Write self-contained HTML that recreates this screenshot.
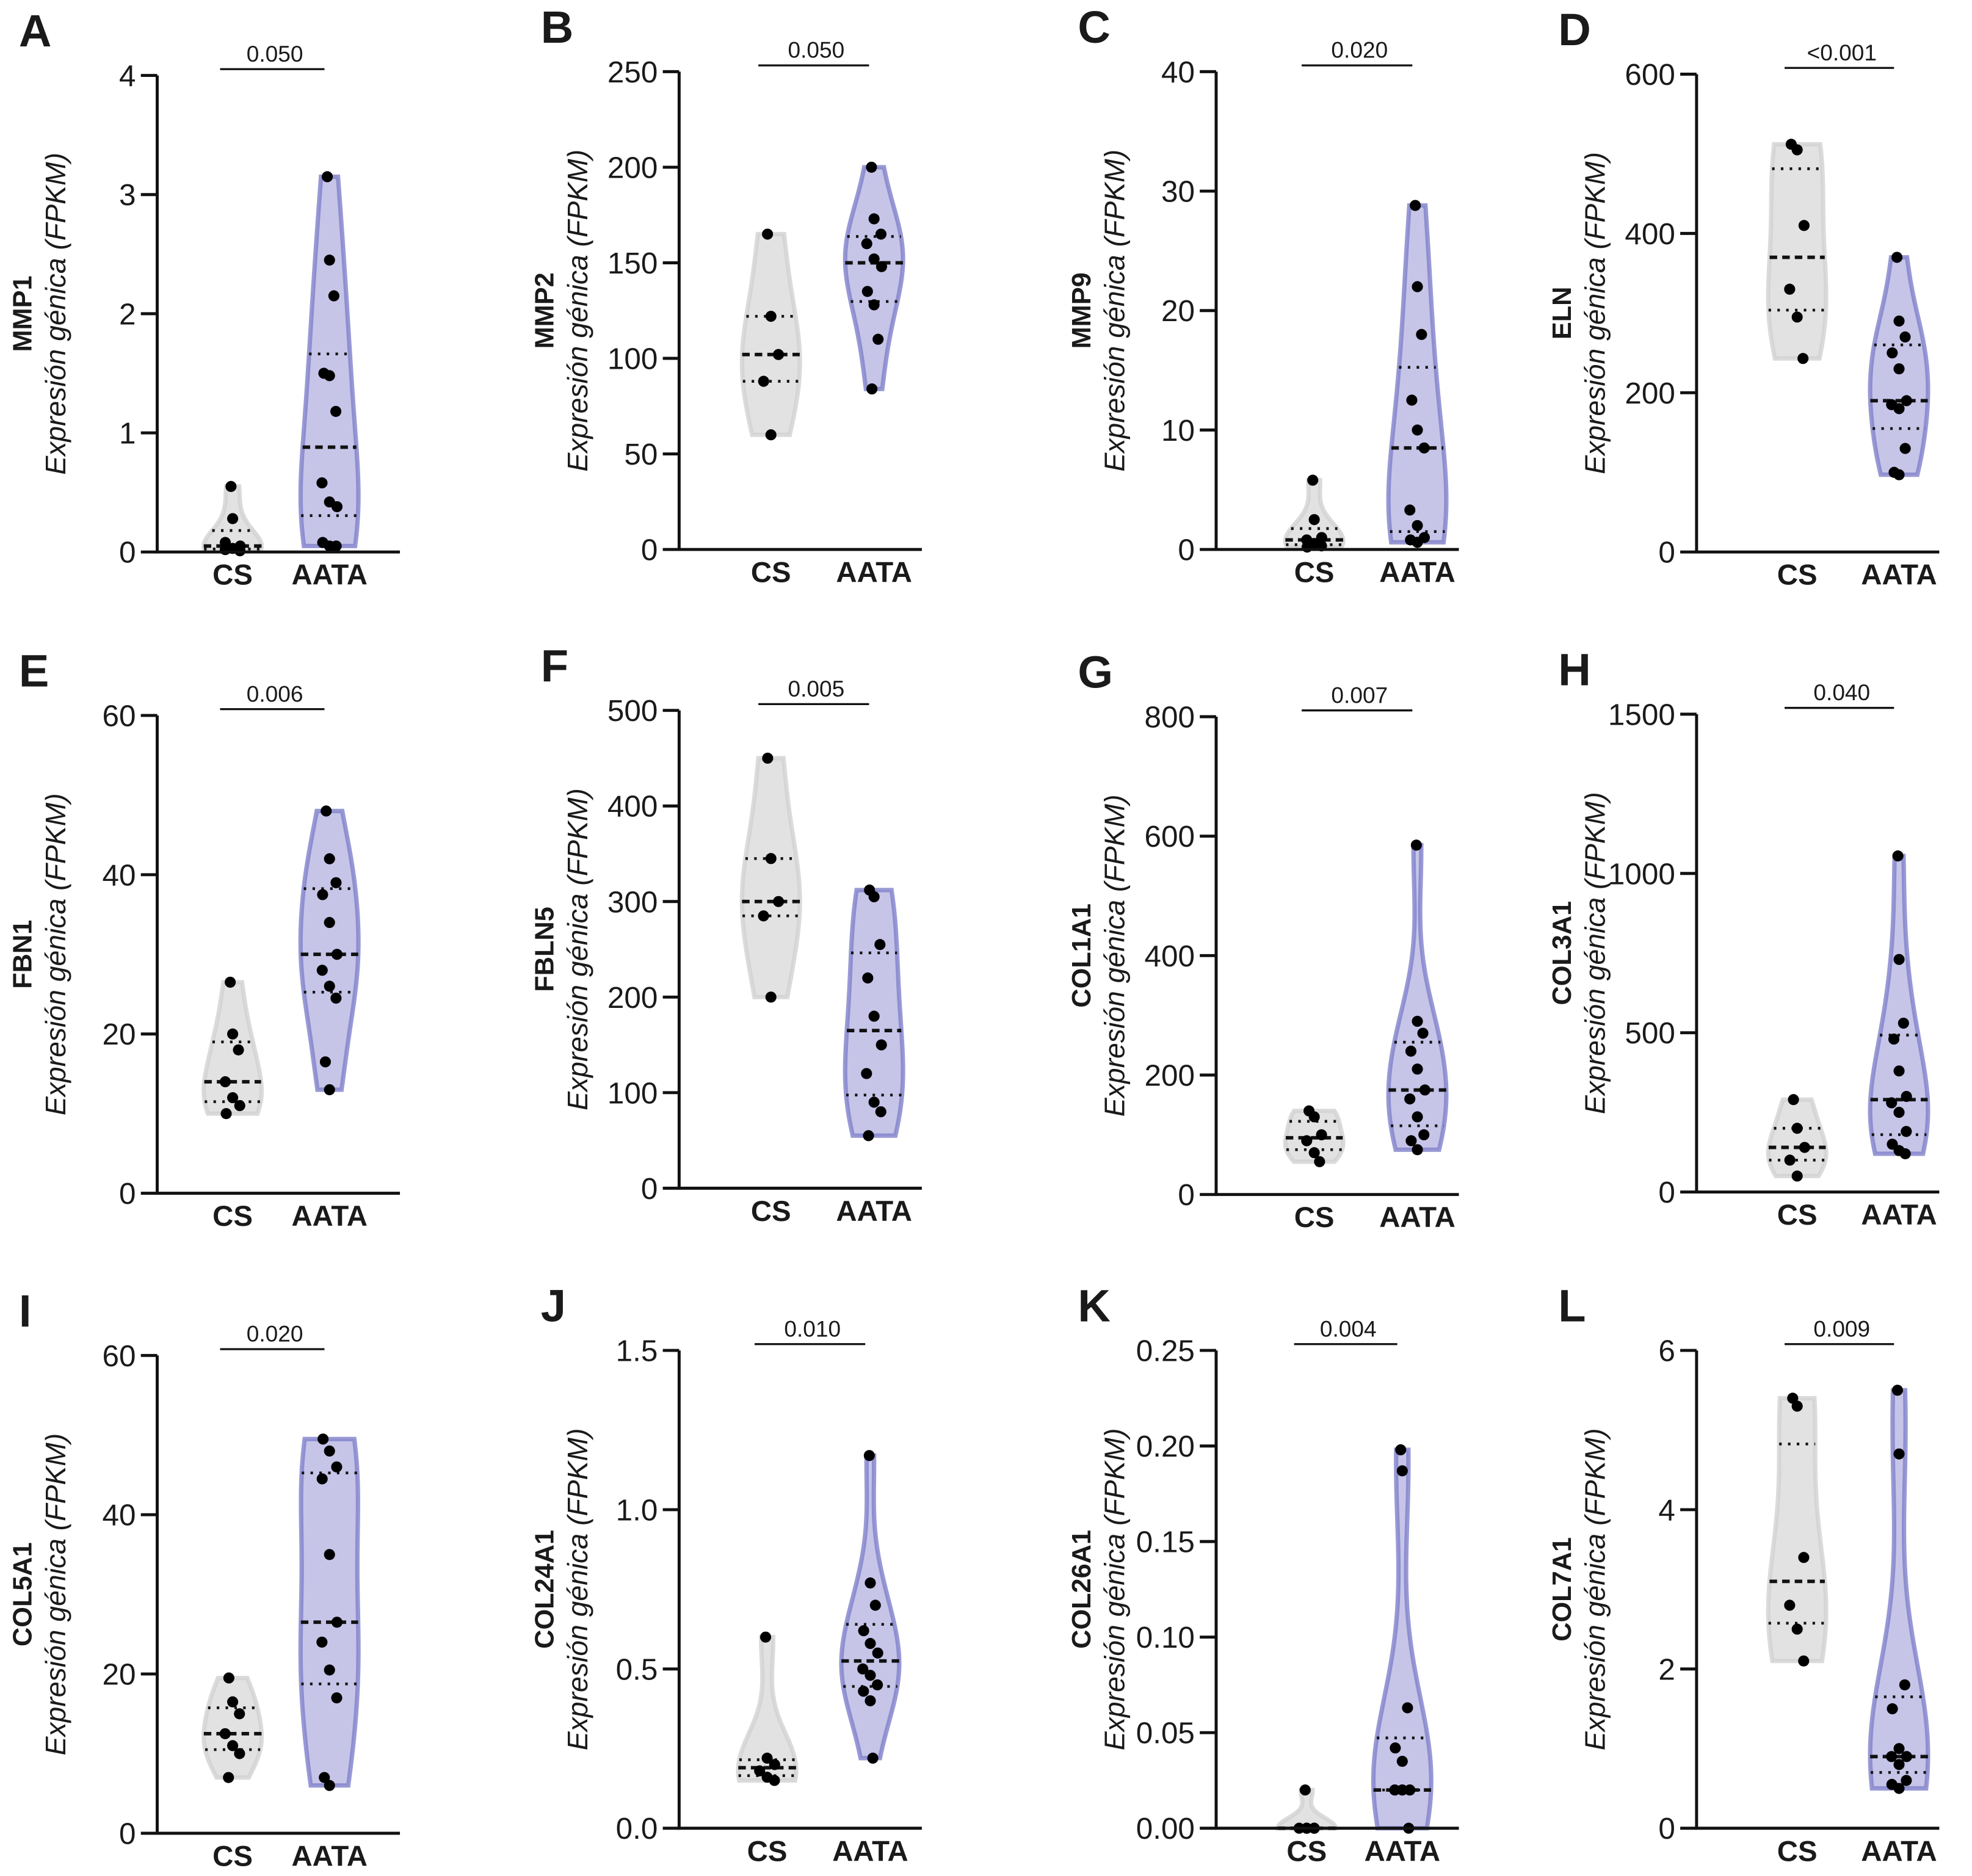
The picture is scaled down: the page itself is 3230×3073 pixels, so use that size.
<!DOCTYPE html>
<html><head><meta charset="utf-8"><style>
html,body{margin:0;padding:0;background:#fff}
svg{display:block}
text{font-family:"Liberation Sans",Arial,sans-serif;fill:#1a1a1a}
</style></head><body>
<svg id="chart" width="3230" height="3073" viewBox="0 0 1568 1492" preserveAspectRatio="none" xmlns="http://www.w3.org/2000/svg"></svg>
<script>
const genes=["MMP1","MMP2","MMP9","ELN","FBN1","FBLN5","COL1A1","COL3A1","COL5A1","COL24A1","COL26A1","COL7A1"];
const letters=["A","B","C","D","E","F","G","H","I","J","K","L"];
const pvals=["0.050","0.050","0.020","<0.001","0.006","0.005","0.007","0.040","0.020","0.010","0.004","0.009"];
const yMaxes=[4,250,40,600,60,500,800,1500,60,1.5,0.25,6];
const tickLabels=[["0","1","2","3","4"],["0","50","100","150","200","250"],["0","10","20","30","40"],["0","200","400","600"],["0","20","40","60"],["0","100","200","300","400","500"],["0","200","400","600","800"],["0","500","1000","1500"],["0","20","40","60"],["0.0","0.5","1.0","1.5"],["0.00","0.05","0.10","0.15","0.20","0.25"],["0","2","4","6"]];
const csValues=[[0.55,0.28,0.05,0.02,0.03,0.01,0.08],[165,122,102,88,60],[5.8,2.5,1.0,0.8,0.5,0.3,0.2],[512,505,410,330,295,243],[26.5,20,18,14,12,11,10],[450,345,300,285,200],[140,130,100,90,70,55],[290,200,140,100,50],[19.5,16.5,15,12.5,11,10,7],[0.6,0.22,0.2,0.18,0.16,0.15],[0.02,0,0,0,0,0],[5.4,5.3,3.4,2.8,2.5,2.1]];
const aataValues=[[3.15,2.45,2.15,1.5,1.48,1.18,0.58,0.42,0.38,0.08,0.05,0.05],[200,173,165,160,152,148,135,128,110,84],[28.8,22,18,12.5,10,8.5,3.3,2,1,0.8,0.6],[370,290,270,250,230,190,185,180,130,100,97],[48,42,39,37.5,34,30,28,26,24.5,16.5,13],[312,305,255,220,180,150,120,90,80,55],[585,290,270,240,210,175,160,130,100,90,75],[1055,730,530,480,380,300,280,250,190,150,130,120],[49.5,48,46,44.5,35,26.5,24,20.5,17,7,6],[1.17,0.77,0.7,0.62,0.58,0.55,0.5,0.48,0.45,0.43,0.4,0.22],[0.198,0.187,0.063,0.042,0.035,0.02,0.02,0.02,0.02,0.02,0.02,0.0],[5.5,4.7,1.8,1.5,1.0,0.9,0.9,0.8,0.6,0.55,0.5]];

// layout (not data)
const axX=[125,540,967,1349,125,540,967,1349,125,540,967,1349];
const axTop=[60,57,57,59,569,565,570,568,1078,1074,1074,1074];
const axBot=[439,437,437,439,949,945,950,948,1458,1454,1454,1454];
const csOff=[60,73,78,80,60,73,78,80,60,70,72,80];
const aaOff=[137,155,160,161,137,155,160,161,137,152,148,161];

const NS="http://www.w3.org/2000/svg";
const svg=document.getElementById('chart');
function mk(tag,attrs,parent){const e=document.createElementNS(NS,tag);for(const k in attrs)e.setAttribute(k,attrs[k]);(parent||svg).appendChild(e);return e;}
function quant(arr,q){const s=[...arr].sort((a,b)=>a-b);const p=(s.length-1)*q;const lo=Math.floor(p),hi=Math.ceil(p);return s[lo]+(s[hi]-s[lo])*(p-lo);}

function drawViolin(g,vals,cx,yS,fill,stroke,ymax){
  const mn=Math.min(...vals),mx=Math.max(...vals);
  const n=vals.length;const mean=vals.reduce((a,b)=>a+b,0)/n;
  const sd=Math.sqrt(vals.reduce((a,b)=>a+(b-mean)**2,0)/n)||ymax*0.02;
  const bw=Math.max(1.06*sd*Math.pow(n,-0.2),ymax*0.01);
  const steps=50;const ys=[],ds=[];
  for(let i=0;i<=steps;i++){const y=mn+(mx-mn)*i/steps;let d=0;vals.forEach(v=>{d+=Math.exp(-0.5*((y-v)/bw)**2);});ys.push(y);ds.push(d);}
  const md=Math.max(...ds);const W=23;
  const hw=y=>{let d=0;vals.forEach(v=>{d+=Math.exp(-0.5*((y-v)/bw)**2);});return W*d/md;};
  let p="";
  ys.forEach((y,i)=>{p+=(i?"L":"M")+(cx-W*ds[i]/md).toFixed(2)+","+yS(y).toFixed(2);});
  for(let i=steps;i>=0;i--)p+="L"+(cx+W*ds[i]/md).toFixed(2)+","+yS(ys[i]).toFixed(2);
  p+="Z";
  const v=mk('path',{d:p,fill:fill,stroke:stroke,'stroke-width':3.5,'stroke-opacity':0.8},g);
  
  
  [[0.25,'2,5',2.2],[0.5,'6,4',2.8],[0.75,'2,5',2.2]].forEach(([q,da,sw])=>{
    const qv=quant(vals,q);const w=hw(qv);
    const l=mk('line',{x1:cx-w,x2:cx+w,y1:yS(qv),y2:yS(qv),stroke:'#111','stroke-width':sw,'stroke-dasharray':da},g);
    
    
  });
  vals.forEach((val,i)=>{
    const off=((i%3)-1)*6*(hw(val)/W);
    const c=mk('circle',{cx:cx+off,cy:yS(val),r:4.4,fill:'#000'},g);
    
    
  });
}

genes.forEach((gene,k)=>{
  const g=mk('g',{});
  
  
  const x0=axX[k],top=axTop[k],bot=axBot[k],ymax=yMaxes[k];
  const yS=v=>bot-(v/ymax)*(bot-top);
  const cs=x0+csOff[k],aa=x0+aaOff[k];
  const lt=mk('text',{x:x0-110,y:top-23,'font-size':36,'font-weight':'bold'},g);lt.textContent=letters[k];
  
  drawViolin(g,csValues[k],cs,yS,'#e2e2e2','#d2d2d2',ymax);
  drawViolin(g,aataValues[k],aa,yS,'#c6c5e8','#7f7fca',ymax);
  const ya=mk('line',{x1:x0,x2:x0,y1:top,y2:bot,stroke:'#111','stroke-width':2.4},g);
  
  const xa=mk('line',{x1:x0-1,x2:x0+193,y1:bot,y2:bot,stroke:'#111','stroke-width':2.4},g);
  
  const tl=tickLabels[k];
  tl.forEach((t,i)=>{
    const v=ymax*i/(tl.length-1);const y=yS(v);
    const tk=mk('line',{x1:x0-13,x2:x0,y1:y,y2:y,stroke:'#111','stroke-width':2.4},g);
    
    const tt=mk('text',{x:x0-17,y:y+8.5,'font-size':24,'text-anchor':'end'},g);tt.textContent=t;
    
  });
  [[cs,'CS'],[aa,'AATA']].forEach(([x,l])=>{
    const t=mk('text',{x:x,y:bot+26,'font-size':23,'font-weight':'bold','text-anchor':'middle'},g);t.textContent=l;
    
  });
  const mid=(top+bot)/2;
  const gt=mk('text',{x:0,y:0,'font-size':21,'font-weight':'bold','text-anchor':'middle',transform:`translate(${x0-100},${mid}) rotate(-90)`},g);gt.textContent=gene;
  
  const it=mk('text',{x:0,y:0,'font-size':22.5,'font-style':'italic','text-anchor':'middle',transform:`translate(${x0-73},${mid}) rotate(-90)`},g);it.textContent='Expresión génica (FPKM)';
  
  const br=mk('line',{x1:cs-10,x2:aa-4,y1:top-5,y2:top-5,stroke:'#111','stroke-width':1.6},g);
  
  const pt=mk('text',{x:(cs+aa)/2-5,y:top-11,'font-size':18,'text-anchor':'middle'},g);pt.textContent=pvals[k];
  
});
</script>
</body></html>
